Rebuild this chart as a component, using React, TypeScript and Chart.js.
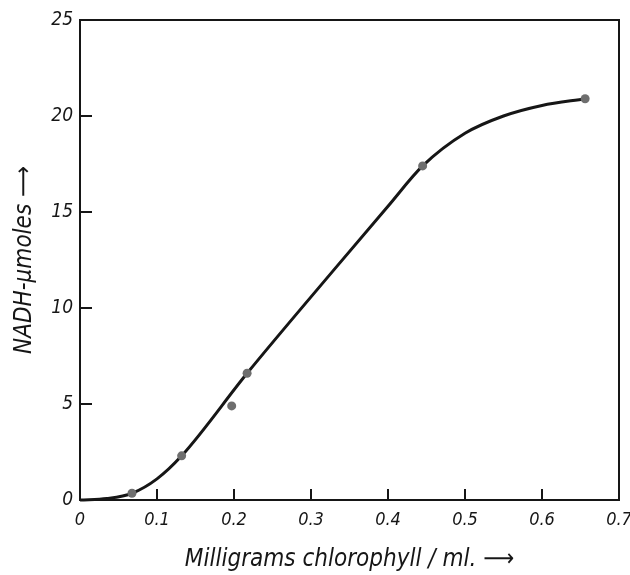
import React, { useEffect, useRef } from "react";
import { Chart, registerables } from "chart.js";
Chart.register(...registerables);

// Measured data points (gray dots)
const pointX = [0.0675, 0.132, 0.197, 0.217, 0.445, 0.656];
const pointY = [0.35, 2.3, 4.9, 6.6, 17.4, 20.9];

// Hand-drawn fitted curve
const curveX = [0, 0.035, 0.0675, 0.1, 0.132, 0.217, 0.33, 0.4, 0.445, 0.5, 0.55, 0.6, 0.656];
const curveY = [0, 0.08, 0.35, 1.1, 2.3, 6.6, 12.0, 15.3, 17.4, 19.1, 20.0, 20.55, 20.9];

const xTicks = [0, 0.1, 0.2, 0.3, 0.4, 0.5, 0.6, 0.7];
const yTicks = [0, 5, 10, 15, 20, 25];

const xTitle = "Milligrams chlorophyll / ml. ⟶";
const yTitle = "NADH-μmoles ⟶";

const FAMILY = "'Liberation Sans Narrow', 'DejaVu Sans Condensed', 'DejaVu Sans', sans-serif";
const INK = "#161616";

const framePlugin = {
  id: "frameTicks",
  beforeDatasetsDraw(chart: any) {
    const { ctx, chartArea } = chart;
    const { left, right, top, bottom } = chartArea;
    ctx.save();
    ctx.strokeStyle = INK;
    ctx.lineWidth = 2;
    ctx.strokeRect(left, top, right - left, bottom - top);
    const xs = chart.scales.x;
    const ys = chart.scales.y;
    ctx.beginPath();
    xTicks.forEach((v) => {
      if (v <= xs.min || v >= xs.max) return;
      const px = xs.getPixelForValue(v);
      ctx.moveTo(px, bottom);
      ctx.lineTo(px, bottom - 11);
    });
    yTicks.forEach((v) => {
      if (v <= ys.min || v >= ys.max) return;
      const py = ys.getPixelForValue(v);
      ctx.moveTo(left, py);
      ctx.lineTo(left + 12, py);
    });
    ctx.stroke();
    ctx.restore();
  },
};

export default function App() {
  const ref = useRef<HTMLCanvasElement | null>(null);
  useEffect(() => {
    if (!ref.current) return;
    const chart = new Chart(ref.current, {
      type: "scatter",
      data: {
        datasets: [
          {
            label: "measured",
            data: pointX.map((x, i) => ({ x, y: pointY[i] })),
            backgroundColor: "#6e6e6e",
            borderWidth: 0,
            pointRadius: 4.5,
            showLine: false,
            order: 0,
            clip: false as any,
          },
          {
            label: "curve",
            data: curveX.map((x, i) => ({ x, y: curveY[i] })),
            showLine: true,
            borderColor: INK,
            borderWidth: 3,
            pointRadius: 0,
            cubicInterpolationMode: "monotone",
            order: 1,
            clip: false as any,
          } as any,
        ],
      },
      plugins: [framePlugin],
      options: {
        animation: false,
        responsive: true,
        maintainAspectRatio: false,
        layout: { padding: { top: 20, right: 11, left: 0, bottom: 0 } },
        plugins: { legend: { display: false }, tooltip: { enabled: false } },
        scales: {
          x: {
            type: "linear",
            min: 0,
            max: 0.7,
            afterBuildTicks: (s: any) => {
              s.ticks = xTicks.map((v) => ({ value: v }));
            },
            afterFit: (s: any) => {
              s.height = 75;
              s.paddingLeft = 0;
              s.paddingRight = 0;
            },
            grid: { display: false, drawTicks: false },
            border: { display: false },
            ticks: {
              color: INK,
              padding: 10,
              maxRotation: 0,
              autoSkip: false,
              font: { family: FAMILY, size: 18, style: "italic" },
              callback: (v: any) => (v === 0 ? "0" : Number(v).toFixed(1)),
            },
            title: {
              display: true,
              text: xTitle,
              color: INK,
              padding: { top: 0, bottom: 1 },
              font: { family: FAMILY, size: 24, style: "italic" },
            },
          },
          y: {
            type: "linear",
            min: 0,
            max: 25,
            afterBuildTicks: (s: any) => {
              s.ticks = yTicks.map((v) => ({ value: v }));
            },
            afterFit: (s: any) => {
              s.width = 80;
              s.paddingTop = 0;
              s.paddingBottom = 0;
            },
            grid: { display: false, drawTicks: false },
            border: { display: false },
            ticks: {
              color: INK,
              padding: 7,
              autoSkip: false,
              font: { family: FAMILY, size: 19, style: "italic" },
              callback: (v: any) => String(v),
            },
            title: {
              display: true,
              text: yTitle,
              color: INK,
              padding: { top: 10, bottom: 0 },
              font: { family: FAMILY, size: 24, style: "italic" },
            },
          },
        },
      } as any,
    });
    return () => chart.destroy();
  }, []);
  return (
    <div style={{ position: "fixed", left: 0, top: 0, width: 630, height: 575, background: "#fff" }}>
      <canvas ref={ref} />
    </div>
  );
}
